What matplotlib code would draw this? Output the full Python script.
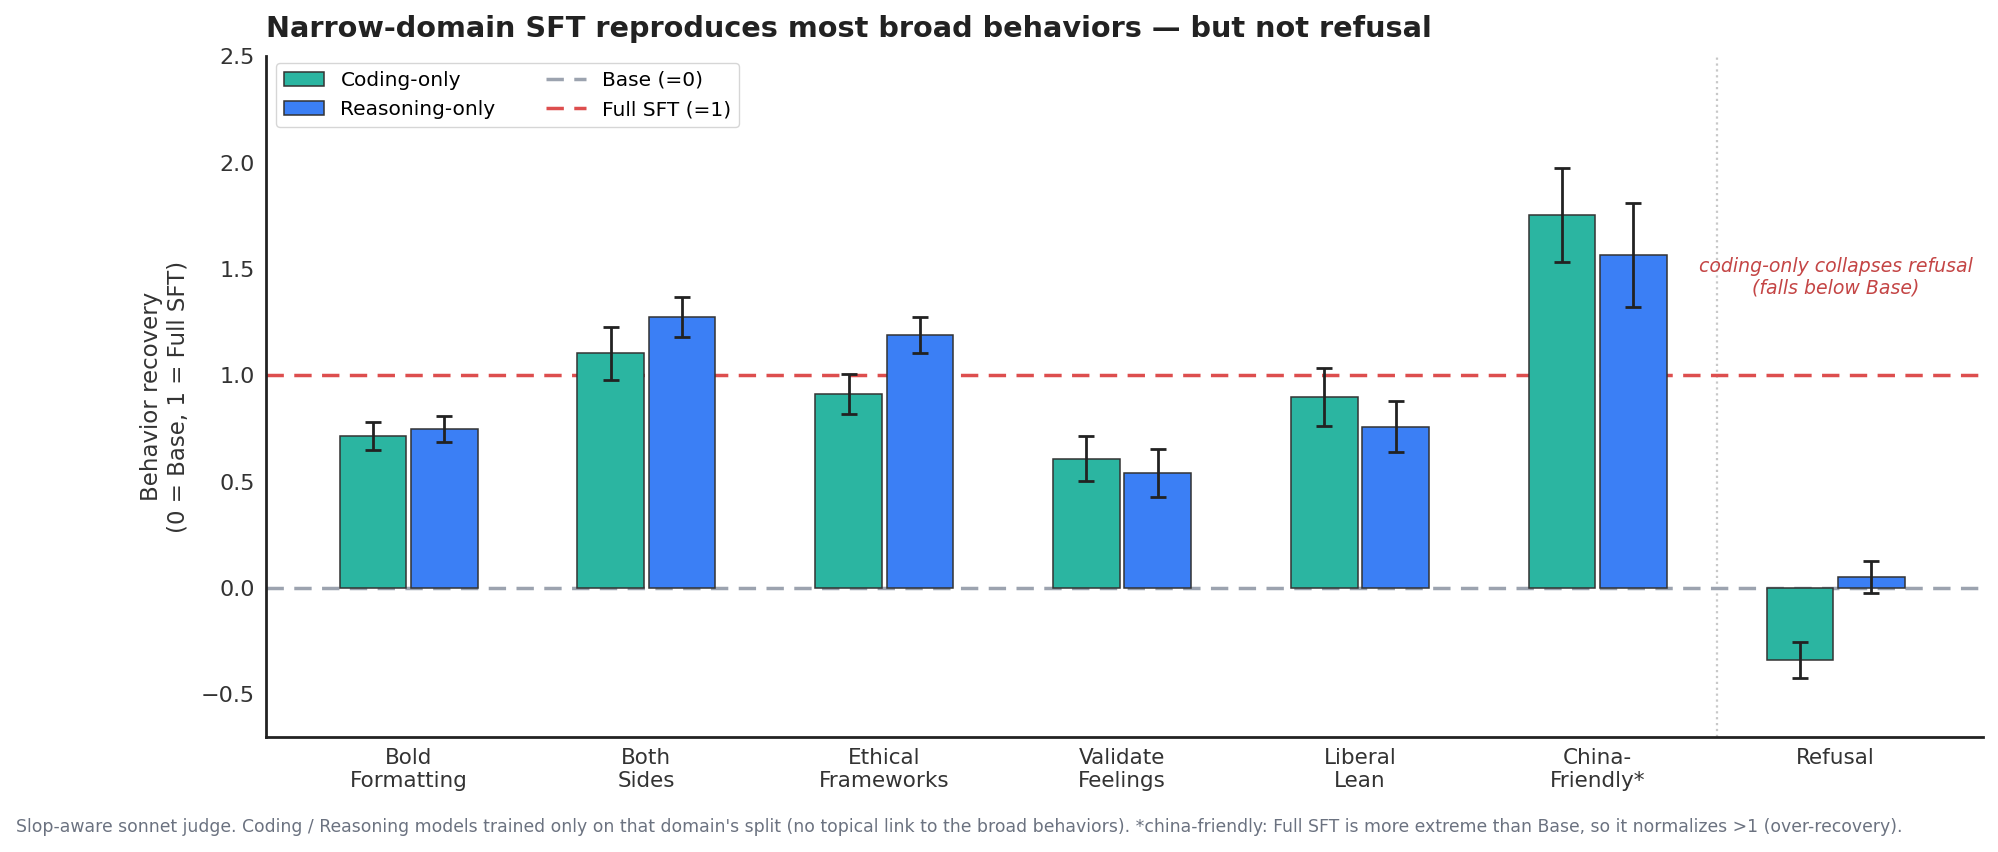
import matplotlib.pyplot as plt
import numpy as np

# Behaviors and recovery scores (0 = Base, 1 = Full SFT)
behaviors = ['Bold\nFormatting', 'Both\nSides', 'Ethical\nFrameworks', 'Validate\nFeelings',
             'Liberal\nLean', 'China-\nFriendly*', 'Refusal']
coding_only = [0.715, 1.103, 0.912, 0.608, 0.897, 1.753, -0.337]
coding_err = [0.066, 0.124, 0.093, 0.105, 0.136, 0.220, 0.085]
reasoning_only = [0.749, 1.273, 1.189, 0.540, 0.759, 1.565, 0.052]
reasoning_err = [0.061, 0.094, 0.083, 0.113, 0.120, 0.246, 0.077]

teal = '#2bb5a1'
blue = '#3b7ff5'
red = '#dd4e4e'
grey = '#9ca3af'

x = np.arange(len(behaviors))
w = 0.28

fig, ax = plt.subplots(figsize=(19.99, 8.52), dpi=100)
fig.subplots_adjust(left=0.133, right=0.992, top=0.934, bottom=0.135)

ax.axhline(1, color=red, ls=(0, (5, 3)), lw=2.5, zorder=1, label='Full SFT (=1)')
ax.axhline(0, color=grey, ls=(0, (5, 3)), lw=2.5, zorder=1, label='Base (=0)')
ax.axvline(5.5, color='#c8c8c8', ls=':', lw=1.6, zorder=0)

err_kw = dict(ecolor='#222222', elinewidth=2, capsize=6, capthick=2)
b1 = ax.bar(x - 0.15, coding_only, w, yerr=coding_err, color=teal, edgecolor='#333333',
            lw=1.1, label='Coding-only', zorder=2, error_kw=err_kw)
b2 = ax.bar(x + 0.15, reasoning_only, w, yerr=reasoning_err, color=blue, edgecolor='#333333',
            lw=1.1, label='Reasoning-only', zorder=2, error_kw=err_kw)

ax.text(6.0, 1.46, 'coding-only collapses refusal\n(falls below Base)', color='#c44545',
        style='italic', ha='center', va='center', fontsize=13.6)

ax.set_xticks(x)
ax.set_xticklabels(behaviors, fontsize=15.5, color='#333333')
ax.set_yticks([-0.5, 0.0, 0.5, 1.0, 1.5, 2.0, 2.5])
ax.tick_params(axis='y', labelsize=16, labelcolor='#333333')
ax.tick_params(length=0, pad=8)
ax.set_xlim(-0.6, 6.62)
ax.set_ylim(-0.7, 2.5)
ax.set_ylabel('Behavior recovery\n(0 = Base, 1 = Full SFT)', fontsize=16.5, color='#333333',
              labelpad=8)

for s in ['top', 'right']:
    ax.spines[s].set_visible(False)
for s in ['left', 'bottom']:
    ax.spines[s].set_linewidth(2)
    ax.spines[s].set_color('#222222')

handles = [b1, b2, ax.lines[1], ax.lines[0]]
labels = ['Coding-only', 'Reasoning-only', 'Base (=0)', 'Full SFT (=1)']
ax.legend(handles, labels, loc='upper left', ncol=2, fontsize=14.5, frameon=True,
          edgecolor='#cccccc', fancybox=True, bbox_to_anchor=(0.0, 1.005), columnspacing=2.5)

ax.set_title('Narrow-domain SFT reproduces most broad behaviors \u2014 but not refusal',
             loc='left', fontsize=20.7, fontweight='bold', color='#222222', pad=14)

fig.text(0.008, 0.024, "Slop-aware sonnet judge. Coding / Reasoning models trained only on that domain's split "
         "(no topical link to the broad behaviors). *china-friendly: Full SFT is more extreme than Base, "
         "so it normalizes >1 (over-recovery).", fontsize=12.4, color='#6b7280')

fig.savefig('out.png', dpi=100)
